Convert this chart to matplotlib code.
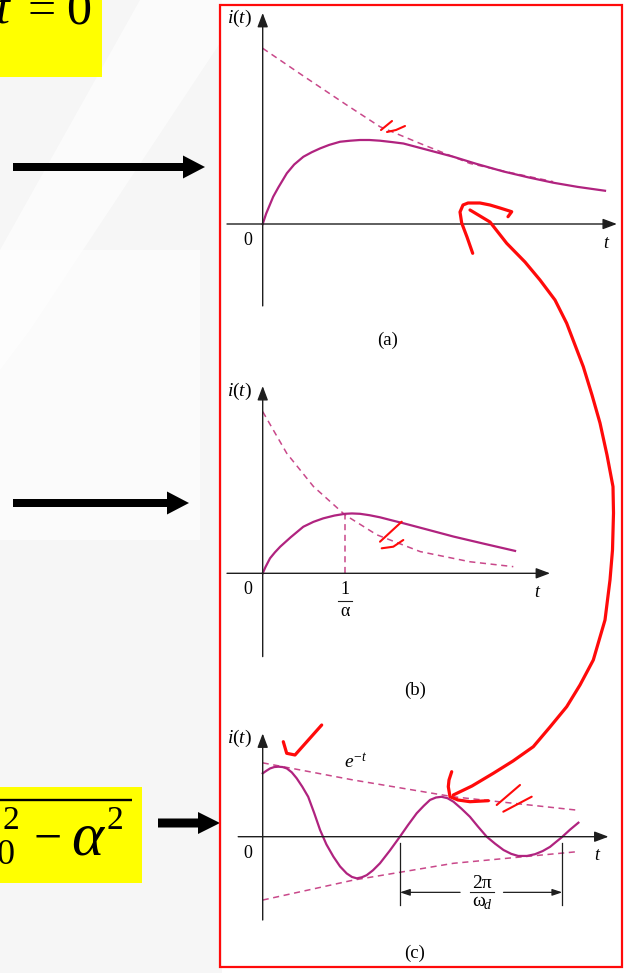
import matplotlib
matplotlib.use("Agg")
import matplotlib.pyplot as plt
from matplotlib.patches import Rectangle, Polygon, FancyArrow

plt.rcParams["font.family"] = ["Liberation Serif", "DejaVu Serif"]
plt.rcParams["mathtext.fontset"] = "custom"
plt.rcParams["mathtext.rm"] = "Liberation Serif"
plt.rcParams["mathtext.it"] = "Liberation Serif:italic"

# ---------------- data ----------------
# (a) overdamped
a_env_t = [0, 1.16, 2.40, 3.35, 4.50, 5.92, 7.16, 8.30]
a_env_i = [5.02, 4.23, 3.40, 2.78, 2.30, 1.73, 1.45, 1.21]
a_resp_t = [0, 0.10, 0.30, 0.45, 0.69, 0.90, 1.16, 1.40, 1.64, 1.90, 2.21, 2.50, 2.78,
            3.05, 3.35, 3.70, 4.02, 4.70, 5.45, 6.10, 6.88, 7.60, 8.30, 9.00, 9.78]
a_resp_i = [0, 0.30, 0.78, 1.05, 1.45, 1.70, 1.92, 2.05, 2.16, 2.26, 2.35, 2.38, 2.40,
            2.40, 2.38, 2.34, 2.30, 2.12, 1.92, 1.72, 1.50, 1.33, 1.18, 1.06, 0.95]

# (b) critically damped
b_env_t = [0, 0.686, 1.45, 2.35, 3.26, 4.50, 5.92, 7.16]
b_env_i = [4.62, 3.43, 2.48, 1.67, 1.10, 0.62, 0.33, 0.19]
b_resp_t = [0, 0.08, 0.21, 0.35, 0.50, 0.80, 1.16, 1.45, 1.73, 2.05, 2.35, 2.55, 2.78,
            3.05, 3.35, 3.70, 4.02, 4.70, 5.45, 6.30, 7.21]
b_resp_i = [0, 0.18, 0.43, 0.60, 0.76, 1.03, 1.33, 1.47, 1.57, 1.65, 1.70, 1.71, 1.70,
            1.66, 1.60, 1.51, 1.43, 1.25, 1.05, 0.85, 0.64]
b_peak_t = 2.35
b_peak_i = 1.70

# (c) underdamped
c_up_t = [0, 2.59, 5.45, 8.97]
c_up_i = [2.11, 1.62, 1.14, 0.76]
c_lo_t = [0, 2.59, 5.45, 8.97]
c_lo_i = [-1.81, -1.24, -0.76, -0.43]
c_resp_t = [0, 0.10, 0.21, 0.33, 0.45, 0.57, 0.69, 0.83, 0.97, 1.13, 1.30, 1.47, 1.64,
            1.82, 2.02, 2.21, 2.40, 2.55, 2.69, 2.83, 2.97, 3.15, 3.35, 3.63, 3.92,
            4.15, 4.40, 4.60, 4.78, 4.95, 5.11, 5.28, 5.45, 5.68, 5.92, 6.15, 6.40,
            6.64, 6.88, 7.10, 7.30, 7.55, 7.78, 8.00, 8.21, 8.38, 8.54, 8.78, 9.02]
c_resp_i = [1.81, 1.88, 1.95, 1.99, 2.00, 1.99, 1.95, 1.84, 1.67, 1.43, 1.14, 0.68, 0.19,
            -0.22, -0.57, -0.85, -1.05, -1.15, -1.19, -1.16, -1.10, -0.96, -0.76, -0.40, 0.00,
            0.33, 0.67, 0.88, 1.05, 1.12, 1.14, 1.10, 1.00, 0.80, 0.57, 0.29, 0.00,
            -0.20, -0.38, -0.49, -0.55, -0.55, -0.50, -0.41, -0.29, -0.15, -0.02, 0.20, 0.40]
c_period = [3.92, 8.56]

panel_labels = ["(a)", "(b)", "(c)"]

# ---------------- figure ----------------
W, H = 625, 973
fig = plt.figure(figsize=(W / 100, H / 100), dpi=100)
fig.patch.set_facecolor("white")

SOLID = "#b0237f"
DASH = "#c9488a"
AXC = "#1e1e1e"
RED = "#ff0a0a"

# background / decoration layer (pixel coordinates)
bg = fig.add_axes([0, 0, 1, 1], zorder=0)
bg.set_xlim(0, W)
bg.set_ylim(H, 0)
bg.axis("off")
bg.add_patch(Rectangle((0, 0), 222, H, color="#f6f6f6", lw=0))
bg.add_patch(Rectangle((0, 250), 200, 290, color="#fbfbfb", lw=0))
bg.add_patch(Polygon([(140, 0), (222, 0), (222, 40), (30, 330), (0, 370), (0, 250)],
                     closed=True, color="#ffffff", lw=0, alpha=0.6))
bg.add_patch(Rectangle((222, 0), W - 222, H, color="white", lw=0))

# yellow boxes
bg.add_patch(Rectangle((0, 0), 102, 77, color="#ffff00", lw=0))
bg.text(3, 24, "t", fontsize=36, style="italic", ha="center", va="baseline")
bg.text(42, 24, "=", fontsize=36, ha="center", va="baseline")
bg.text(78.5, 24, "0", fontsize=36, ha="center", va="baseline")

bg.add_patch(Rectangle((0, 787), 142, 96, color="#ffff00", lw=0))
bg.plot([0, 132], [799.5, 799.5], color="black", lw=1.7, solid_capstyle="butt")
bg.text(11, 821, "2", fontsize=24, ha="center", va="center")
bg.text(6, 855, "0", fontsize=26, ha="center", va="center")
bg.text(48, 840, "\u2212", fontsize=36, ha="center", va="center")
bg.text(87, 840, "\u03b1", fontsize=44, style="italic", ha="center", va="center")
bg.text(115, 821, "2", fontsize=24, ha="center", va="center")

# black arrows on the left
for (x1, x2, y, sw, hw) in [(13, 205, 167, 8, 23), (13, 189, 503, 8, 23), (158, 220, 823, 9, 22)]:
    bg.add_patch(FancyArrow(x1, y, x2 - x1, 0, width=sw, head_width=hw, head_length=22,
                            length_includes_head=True, color="black", lw=0))

S = 35.0


def make_panel(x0, y0):
    ax = fig.add_axes([0, 0, 1, 1], zorder=1)
    ax.set_xlim(-x0 / S, (W - x0) / S)
    ax.set_ylim((y0 - H) / S, y0 / S)
    ax.axis("off")
    ax.patch.set_visible(False)
    return ax


def axes_arrows(ax, xmin, xmax, ymin, ymax):
    ap = dict(arrowstyle="-|>,head_length=0.85,head_width=0.32", color=AXC, lw=1.0,
              shrinkA=0, shrinkB=0)
    ax.annotate("", xy=(xmax, 0), xytext=(xmin, 0), arrowprops=ap)
    ax.annotate("", xy=(0, ymax), xytext=(0, ymin), arrowprops=ap)


def common_labels(ax, ymax, tx, label, lx, ly):
    ax.text(-0.65, ymax - 0.15, "$i(t)$", fontsize=14, ha="center", va="center")
    ax.text(-0.42, -0.47, "0", fontsize=13, ha="center", va="center")
    ax.text(tx, -0.55, "$t$", fontsize=13, ha="center", va="center")
    ax.text(lx, ly, label, fontsize=13.5, ha="center", va="center")


dash_kw = dict(color=DASH, lw=1.1, ls=(0, (4, 3)), clip_on=False)
solid_kw = dict(color=SOLID, lw=1.6, clip_on=False, solid_joinstyle="round")

# (a)
axa = make_panel(262.7, 224)
axes_arrows(axa, -1.02, 10.12, -2.34, 6.03)
axa.plot(a_env_t, a_env_i, **dash_kw)
axa.plot(a_resp_t, a_resp_i, **solid_kw)
common_labels(axa, 6.03, 9.83, panel_labels[0], 3.58, -3.31)

# (b)
axb = make_panel(262.7, 573.3)
axes_arrows(axb, -1.02, 8.21, -2.38, 5.35)
axb.plot(b_env_t, b_env_i, **dash_kw)
axb.plot([b_peak_t, b_peak_t], [0, b_peak_i], **dash_kw)
axb.plot(b_resp_t, b_resp_i, **solid_kw)
common_labels(axb, 5.35, 7.87, panel_labels[1], 4.35, -3.33)
axb.text(b_peak_t, -0.47, "1", fontsize=13, ha="center", va="center")
axb.plot([b_peak_t - 0.19, b_peak_t + 0.19], [-0.78, -0.78], color=AXC, lw=0.8, clip_on=False)
axb.text(b_peak_t, -1.10, "\u03b1", fontsize=13, ha="center", va="center")

# (c)
axc = make_panel(262.7, 836.7)
axes_arrows(axc, -0.70, 9.88, -2.38, 2.95)
axc.plot(c_up_t, c_up_i, **dash_kw)
axc.plot(c_lo_t, c_lo_i, **dash_kw)
axc.plot(c_resp_t, c_resp_i, **solid_kw)
common_labels(axc, 2.95, 9.58, panel_labels[2], 4.35, -3.32)
axc.text(2.64, 2.11, "$e^{-t}$", fontsize=14, ha="center", va="center")
for tp in c_period:
    axc.plot([tp, tp], [-0.19, -1.95], color=AXC, lw=0.9, clip_on=False)
dap = dict(arrowstyle="-|>,head_length=0.6,head_width=0.2", color=AXC, lw=0.9, shrinkA=0, shrinkB=0)
axc.annotate("", xy=(c_period[0], -1.59), xytext=(5.64, -1.59), arrowprops=dap)
axc.annotate("", xy=(c_period[1], -1.59), xytext=(6.88, -1.59), arrowprops=dap)
axc.text(6.26, -1.33, "2\u03c0", fontsize=14, ha="center", va="center")
axc.plot([6.26 - 0.34, 6.26 + 0.34], [-1.59, -1.59], color=AXC, lw=0.8, clip_on=False)
axc.text(6.16, -1.86, "\u03c9", fontsize=14, ha="center", va="center")
axc.text(6.42, -1.96, "d", fontsize=10, style="italic", ha="center", va="center")

# top layer: red frame and hand-written ink (pixel coordinates)
top = fig.add_axes([0, 0, 1, 1], zorder=3)
top.set_xlim(0, W)
top.set_ylim(H, 0)
top.axis("off")
top.patch.set_visible(False)
top.add_patch(Rectangle((220, 5), 402, 962, fill=False, edgecolor=RED, lw=1.6))

ink = dict(color=RED, lw=2.3, solid_capstyle="round", solid_joinstyle="round")
big = [(470, 210), (490, 222), (506.7, 243.3), (525, 262), (540, 280), (555, 300), (566.7, 323.3),
       (583.3, 366.7), (592, 395), (600, 423), (607, 455), (613, 486.7), (613.5, 513), (612.5, 550),
       (610, 580), (605, 620), (593.3, 660), (580, 685), (566.7, 706.7), (550, 727), (533.3, 746.7),
       (513, 761), (493.3, 773.3), (472, 786), (453.3, 795)]
top.plot([p[0] for p in big], [p[1] for p in big], **ink)
hook = [(472.7, 253.3), (467, 237), (461.7, 223), (460, 212), (463, 205), (468, 203), (480, 203),
        (490, 205), (500, 208), (511.7, 211.7), (508, 216.7)]
top.plot([p[0] for p in hook], [p[1] for p in hook], **ink)
head = [(451.7, 771.7), (449, 780), (448.3, 786.7), (450, 796.7), (458, 800), (470, 801.7), (488.3, 800.7)]
top.plot([p[0] for p in head], [p[1] for p in head], **ink)

thin = dict(color=RED, lw=1.5, solid_capstyle="round", solid_joinstyle="round")
# marks in (a)
top.plot([381, 392], [130, 121], **thin)
top.plot([387, 396, 405], [132, 130, 126], **thin)
# marks in (b)
top.plot([380, 401.7], [541.7, 521.7], **thin)
top.plot([381.7, 393.3, 403.3], [548.3, 546.7, 540], **thin)
# marks in (c)
top.plot([283.3, 286.7, 295, 321.7], [741.7, 753.3, 755, 725], **ink)
top.plot([496.7, 520], [805, 785], **thin)
top.plot([503.3, 531.7], [811.7, 796.7], **thin)

fig.savefig("out.png", dpi=100)
